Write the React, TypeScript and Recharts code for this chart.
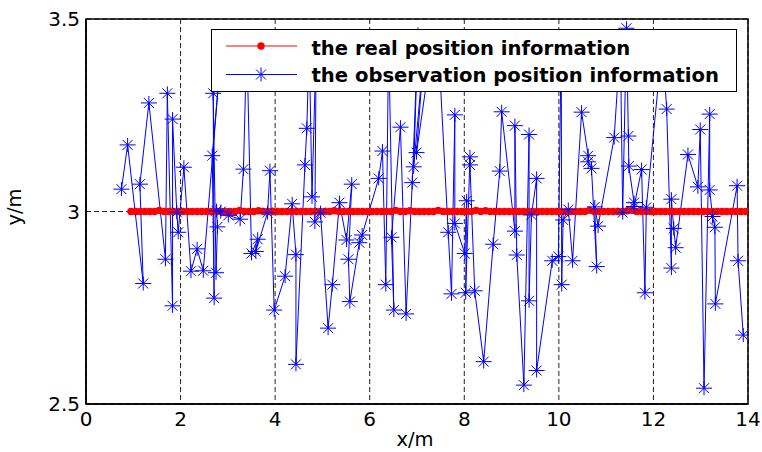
import { ComposedChart, Line, XAxis, YAxis, CartesianGrid, Legend, ReferenceArea } from 'recharts'

const xTicks = [0, 2, 4, 6, 8, 10, 12, 14]
const yTicks = [2.5, 3, 3.5]
const seriesNames = ['the real position information', 'the observation position information']

// real track (x in m, y in m)
const realX = [
  0.95, 1.05, 1.15, 1.25, 1.35, 1.45, 1.55, 1.65, 1.75, 1.85,
  1.95, 2.05, 2.15, 2.25, 2.35, 2.45, 2.55, 2.65, 2.75, 2.85,
  2.95, 3.05, 3.15, 3.25, 3.35, 3.45, 3.55, 3.65, 3.75, 3.85,
  3.95, 4.05, 4.15, 4.25, 4.35, 4.45, 4.55, 4.65, 4.75, 4.85,
  4.95, 5.05, 5.15, 5.25, 5.35, 5.45, 5.55, 5.65, 5.75, 5.85,
  5.95, 6.05, 6.15, 6.25, 6.35, 6.45, 6.55, 6.65, 6.75, 6.85,
  6.95, 7.05, 7.15, 7.25, 7.35, 7.45, 7.55, 7.65, 7.75, 7.85,
  7.95, 8.05, 8.15, 8.25, 8.35, 8.45, 8.55, 8.65, 8.75, 8.85,
  8.95, 9.05, 9.15, 9.25, 9.35, 9.45, 9.55, 9.65, 9.75, 9.85,
  9.95, 10.05, 10.15, 10.25, 10.35, 10.45, 10.55, 10.65, 10.75, 10.85,
  10.95, 11.05, 11.15, 11.25, 11.35, 11.45, 11.55, 11.65, 11.75, 11.85,
  11.95, 12.05, 12.15, 12.25, 12.35, 12.45, 12.55, 12.65, 12.75, 12.85,
  12.95, 13.05, 13.15, 13.25, 13.35, 13.45, 13.55, 13.65, 13.75, 13.85,
  13.95,
]
const realY = [
  3, 3, 3, 3, 3, 3, 3.003, 3, 3, 3,
  3, 3, 3, 3, 3, 3, 3, 3, 3, 3,
  3, 3, 3, 3.003, 3, 3, 3, 3.002, 3, 3,
  3, 3, 3, 3, 3, 3, 3, 3, 3, 3,
  3, 3, 3, 3.002, 3, 3, 3, 3, 3, 3,
  3, 3, 3, 3, 3, 3, 3.003, 3, 3, 3.002,
  3, 3, 3, 3, 3, 3.003, 3, 3, 3, 3,
  3, 3, 3, 3.003, 3, 3.002, 3, 3, 3, 3,
  3, 3, 3, 3, 3, 3, 3, 3, 3, 3,
  3, 3, 3, 3, 3, 3, 3, 3.003, 3, 3,
  3, 3, 3, 3, 3, 3.002, 3.003, 3, 3, 3,
  3, 3, 3, 3, 3, 3, 3, 3, 3, 3,
  3, 3, 3, 3, 3, 3, 3, 3, 3, 3,
  3,
]

// observed track, in measurement order
const obsX = [
  0.75, 0.88, 1.21, 1.14, 1.33, 1.68, 1.72, 1.83, 1.83, 1.92,
  1.95, 2.07, 2.22, 2.35, 2.48, 2.86, 2.67, 2.71, 2.69, 2.75,
  2.78, 2.76, 2.85, 3.01, 3.26, 3.33, 3.4, 3.5, 3.63, 3.59,
  3.84, 3.89, 3.98, 4.21, 4.36, 4.44, 4.44, 4.63, 4.67, 4.72,
  4.78, 4.87, 4.84, 4.96, 5.12, 5.21, 5.36, 5.51, 5.62, 5.55,
  5.58, 5.78, 5.84, 6.19, 6.27, 6.34, 6.4, 6.51, 6.46, 6.65,
  6.77, 6.9, 7.02, 6.93, 7.15, 6.99, 7.3, 7.45, 7.66, 7.73,
  7.8, 7.8, 8.01, 8.05, 8.03, 8.12, 8.12, 8.22, 8.41, 8.61,
  8.75, 8.79, 9.07, 9.07, 9.11, 9.26, 9.37, 9.37, 9.42, 9.53,
  9.53, 9.86, 9.99, 10.05, 10.06, 10.09, 10.2, 10.29, 10.48, 10.62,
  10.62, 10.69, 10.8, 10.76, 10.83, 11.17, 11.3, 11.35, 11.43, 11.47,
  11.48, 11.59, 11.59, 11.75, 11.82, 11.85, 12.19, 12.28, 12.38, 12.38,
  12.43, 12.47, 12.73, 12.94, 12.99, 13.07, 13.19, 13.19, 13.25, 13.3,
  13.31, 13.77, 13.79, 13.9,
]
const obsY = [
  3.058, 3.173, 2.813, 3.071, 3.282, 2.876, 3.307, 2.755, 3.24, 2.998,
  2.946, 3.115, 2.845, 2.903, 2.846, 3.42, 3.145, 2.775, 3.307, 2.841,
  2.96, 3.002, 3.0, 2.99, 2.98, 3.11, 3.45, 2.891, 2.928, 2.896,
  2.997, 3.106, 2.744, 2.832, 3.02, 2.888, 2.603, 3.121, 3.216, 3.44,
  3.038, 3.45, 2.973, 2.997, 2.697, 2.81, 3.023, 2.926, 3.071, 2.876,
  2.766, 2.919, 2.939, 3.086, 3.157, 2.81, 3.45, 2.744, 2.933, 3.219,
  2.734, 3.075, 3.46, 3.116, 3.42, 3.153, 3.42, 3.44, 2.946, 2.786,
  3.251, 2.969, 2.891, 3.028, 2.789, 3.142, 3.121, 2.794, 2.61, 2.915,
  3.105, 3.259, 2.949, 3.223, 2.887, 2.549, 3.2, 2.768, 2.991, 3.086,
  2.587, 2.872, 2.883, 3.45, 2.81, 2.978, 3.005, 2.872, 3.258, 3.145,
  3.129, 3.112, 2.857, 3.012, 2.962, 3.192, 3.44, 2.997, 3.476, 3.196,
  3.118, 3.023, 3.013, 3.109, 2.789, 3.011, 3.44, 3.266, 2.853, 3.032,
  2.956, 2.906, 3.148, 3.064, 3.213, 2.541, 3.253, 3.056, 2.987, 2.959,
  2.76, 3.067, 2.872, 2.679,
]

const realData = realX.map((x, i) => ({ x, y: realY[i] }))
const obsData = obsX.map((x, i) => ({ x, y: obsY[i] }))

const font = 'DejaVu Sans, sans-serif'
const RED = '#ff0000'
const BLUE = '#0000ff'

const RedDot = (props: any) => {
  const { cx, cy, index } = props
  if (cx == null || cy == null) return <g key={index} />
  return <circle key={index} cx={cx} cy={cy} r={3.7} fill={RED} stroke="none" />
}

const starShape = (cx: number, cy: number, key?: any) => (
  <g key={key} stroke={BLUE} strokeWidth={1}>
    <line x1={cx - 8} y1={cy} x2={cx + 8} y2={cy} />
    <line x1={cx} y1={cy - 7} x2={cx} y2={cy + 7} />
    <line x1={cx - 5} y1={cy - 5} x2={cx + 5} y2={cy + 5} />
    <line x1={cx - 5} y1={cy + 5} x2={cx + 5} y2={cy - 5} />
  </g>
)

const StarDot = (props: any) => {
  const { cx, cy, index } = props
  if (cx == null || cy == null) return <g key={index} />
  return starShape(cx, cy, index)
}

const LegendBox = () => (
  <div
    style={{
      width: 526,
      height: 63,
      boxSizing: 'border-box',
      border: '1.5px solid #000',
      background: '#fff',
    }}
  >
    <svg width={523} height={60} style={{ display: 'block' }}>
      <line x1={14} y1={16} x2={85} y2={16} stroke={RED} strokeWidth={1} />
      <circle cx={49} cy={16} r={3.7} fill={RED} />
      <line x1={14} y1={44.5} x2={85} y2={44.5} stroke={BLUE} strokeWidth={1} />
      {starShape(49, 44.5)}
      <text x={99.5} y={24.5} fontFamily={font} fontWeight="bold" fontSize={19.6} fill="#000">
        {seriesNames[0]}
      </text>
      <text x={99.5} y={52} fontFamily={font} fontWeight="bold" fontSize={19.6} fill="#000">
        {seriesNames[1]}
      </text>
    </svg>
  </div>
)

const tickStyle = { fill: '#000', fontSize: 20, fontFamily: font }

export default function App() {
  return (
    <div style={{ position: 'absolute', left: 0, top: 0, background: '#fff' }}>
      <ComposedChart width={762} height={452} margin={{ top: 19, right: 14, bottom: 0, left: 0 }}>
        <CartesianGrid stroke="#222" strokeDasharray="5 3" strokeWidth={1} />
        <XAxis
          dataKey="x"
          type="number"
          domain={[0, 14]}
          ticks={xTicks}
          allowDataOverflow
          height={48}
          tickLine={false}
          axisLine={{ stroke: '#000', strokeWidth: 1.5 }}
          tick={tickStyle}
          label={{
            content: () => (
              <text x={415} y={446} textAnchor="middle" fontFamily={font} fontSize={19.5} fill="#000">
                x/m
              </text>
            ),
          }}
        />
        <YAxis
          type="number"
          domain={[2.5, 3.5]}
          ticks={yTicks}
          allowDataOverflow
          width={86}
          tickLine={false}
          tickMargin={0}
          axisLine={{ stroke: '#000', strokeWidth: 1.5 }}
          tick={tickStyle}
          label={{
            content: () => (
              <text
                x={21}
                y={207}
                textAnchor="middle"
                transform="rotate(-90 21 207)"
                fontFamily={font}
                fontSize={19.5}
                fill="#000"
              >
                y/m
              </text>
            ),
          }}
        />
        <ReferenceArea x1={0} x2={14} y1={2.5} y2={3.5} fill="none" stroke="#000" strokeWidth={1.5} />
        <Line
          data={realData}
          dataKey="y"
          type="linear"
          stroke={RED}
          strokeWidth={1}
          dot={RedDot}
          activeDot={false}
          isAnimationActive={false}
        />
        <Line
          data={obsData}
          dataKey="y"
          type="linear"
          stroke={BLUE}
          strokeWidth={1}
          dot={StarDot}
          activeDot={false}
          isAnimationActive={false}
        />
        <Legend
          layout="horizontal"
          verticalAlign="middle"
          align="center"
          wrapperStyle={{ left: 211, top: 29, width: 526, height: 63, zIndex: 10 }}
          content={() => <LegendBox />}
        />
      </ComposedChart>
    </div>
  )
}
